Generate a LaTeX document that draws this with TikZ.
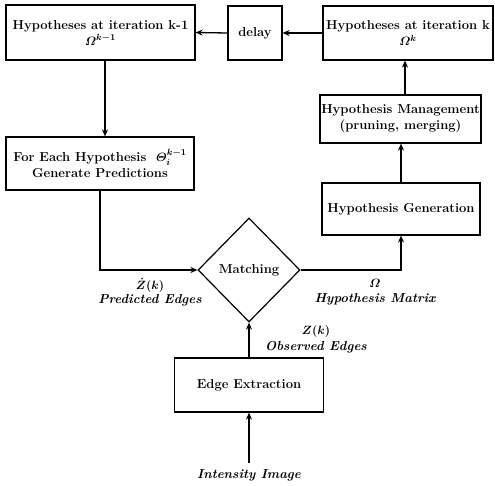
\documentclass[tikz,border=0pt]{standalone}
\usepackage{amsmath}
\usetikzlibrary{shapes.geometric,arrows.meta}
\begin{document}
\begin{tikzpicture}[x=1pt,y=-1pt,
  box/.style={draw,line width=1.2pt,rectangle,align=center,inner sep=0pt,font=\fontsize{13}{16}\selectfont\bfseries},
  conn/.style={line width=1.3pt,-{Stealth[length=7pt,width=6pt]}},
  lab/.style={align=center,inner sep=0pt,font=\fontsize{13}{15}\selectfont\bfseries\itshape}]
\useasboundingbox (0,0) rectangle (495,486);
\node[box,minimum width=189pt,minimum height=55pt] (b1) at (100.5,32.5) {Hypotheses at iteration k-1\\$\boldsymbol{\varOmega^{k-1}}$};
\node[box,minimum width=54pt,minimum height=54pt] (delay) at (255,33) {delay};
\node[box,minimum width=170pt,minimum height=54pt] (b3) at (408,33) {Hypotheses at iteration k\\$\boldsymbol{\varOmega^{k}}$};
\node[box,minimum width=188pt,minimum height=53pt] (pred) at (100,163.5) {For Each Hypothesis \ $\boldsymbol{\varTheta_i^{k-1}}$\\Generate Predictions};
\node[box,diamond,minimum width=102pt,minimum height=104pt] (dia) at (249,270) {Matching};
\node[box,minimum width=158pt,minimum height=52pt] (gen) at (401,209) {Hypothesis Generation};
\node[box,minimum width=161pt,minimum height=48pt] (mgmt) at (400.5,119) {Hypothesis Management\\(pruning, merging)};
\node[box,minimum width=149pt,minimum height=54pt] (edge) at (249,385) {Edge Extraction};
\node[lab] (int) at (249,475) {Intensity Image};
\node[lab] (zhat) at (150,285) {$\boldsymbol{\dot Z(k)}$};
\node[lab] (zhatl) at (150,300) {Predicted Edges};
\node[lab] (om) at (375,283) {$\boldsymbol{\varOmega}$};
\node[lab] (oml) at (375,299) {Hypothesis Matrix};
\node[lab] (zk) at (316,331) {$\boldsymbol{Z(k)}$};
\node[lab] (zkl) at (316,347) {Observed Edges};
\draw[conn] ([xshift=4.5pt]b1.south) -- ([xshift=4.5pt]b1.south |- pred.north);
\draw[conn] (pred.south) |- (dia.west);
\draw[conn] (dia.east) -| (gen.south);
\draw[conn] (gen.north) -- (gen.north |- mgmt.south);
\draw[conn] ([xshift=4.5pt]mgmt.north) -- ([xshift=4.5pt]mgmt.north |- b3.south);
\draw[conn] (b3.west) -- (delay.east);
\draw[conn] (delay.west) -- (b1.east);
\draw[conn] (edge.north) -- (dia.south);
\draw[conn] ([yshift=6pt]int.north) -- (edge.south);
\end{tikzpicture}
\end{document}
